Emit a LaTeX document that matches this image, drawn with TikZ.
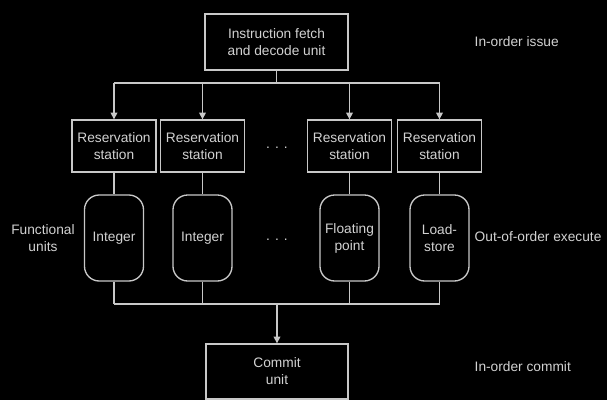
\documentclass[tikz,border=0pt]{standalone}
\usepackage{fontspec}
\setmainfont{Liberation Sans}
\usetikzlibrary{arrows.meta}
\definecolor{fg}{HTML}{D2D2D2}
\definecolor{ln}{HTML}{C8C8C8}
\begin{document}
\begin{tikzpicture}[x=0.75pt,y=-0.75pt,
  txt/.style={text=fg,font=\fontsize{10.3}{12.75}\selectfont,align=center},
  box/.style={txt,draw=ln,line width=1pt,inner sep=0pt},
  fu/.style={box,rounded corners=11pt,minimum width={59*0.75pt},minimum height={86*0.75pt}},
  rs/.style={box,minimum width={84*0.75pt},minimum height={52*0.75pt}},
  wire/.style={draw=ln,line width=1pt},
  arr/.style={wire,-{Triangle[width=5pt,length=5pt]}},
  lab/.style={txt,anchor=west,align=left}]
\fill[black] (0,0) rectangle (607,400);
\useasboundingbox (0,0) rectangle (607,400);

\node[box,minimum width={143*0.75pt},minimum height={56*0.75pt}] (fetch) at (276.5,42) {Instruction fetch\\and decode unit};

\node[rs] (rs1) at (114,146) {Reservation\\station};
\node[rs] (rs2) at (202.5,146) {Reservation\\station};
\node[rs] (rs3) at (349.5,146) {Reservation\\station};
\node[rs] (rs4) at (439.5,146) {Reservation\\station};

\node[fu] (fu1) at (114,238) {Integer};
\node[fu] (fu2) at (202.5,238) {Integer};
\node[fu] (fu3) at (349.5,238) {Floating\\point};
\node[fu] (fu4) at (439.5,238) {Load-\\store};

\node[box,minimum width={142*0.75pt},minimum height={55*0.75pt}] (commit) at (277,371.5) {Commit\\unit};

\node[txt] (dots1) at (277,148) {. . .};
\node[txt] (dots2) at (277,240) {. . .};

\node[lab] (l1) at (470,42) {In-order issue};
\node[lab] (l2) at (470,237) {Out-of-order execute};
\node[lab] (l3) at (470,367) {In-order commit};
\node[txt] (l4) at (43,238) {Functional\\units};

% top bus
\coordinate (tb) at (fetch.south |- 0,83);
\coordinate (tbl) at (rs1.north |- tb);
\coordinate (tbr) at (rs4.north |- tb);
\draw[wire] (fetch.south) -- (tb);
\draw[wire] (tbl) -- (tbr);
\foreach \r in {rs1,rs2,rs3,rs4}{
  \draw[arr] (\r.north |- tb) -- (\r.north);
}
% rs to fu
\foreach \i in {1,2,3,4}{
  \draw[wire] (rs\i.south) -- (fu\i.north);
}
% bottom bus
\coordinate (bb) at (commit.north |- 0,304);
\foreach \i in {1,2,3,4}{
  \draw[wire] (fu\i.south) -- (fu\i.south |- bb);
}
\draw[wire] (fu1.south |- bb) -- (fu4.south |- bb);
\draw[arr] (bb) -- (commit.north);
\end{tikzpicture}
\end{document}
